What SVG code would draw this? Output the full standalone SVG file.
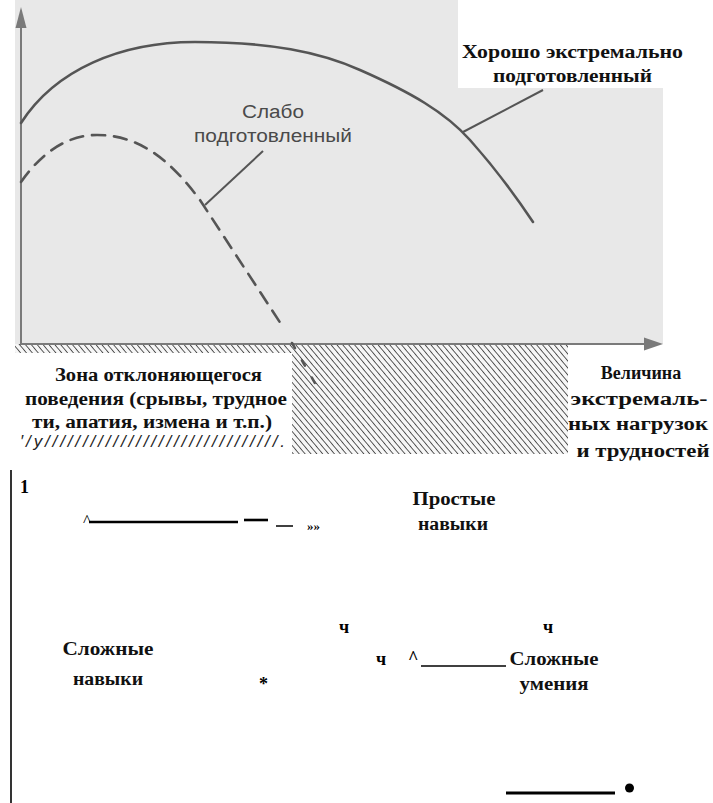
<svg xmlns="http://www.w3.org/2000/svg" width="713" height="803" viewBox="0 0 713 803">
<style>
.b{font-family:"Liberation Serif","Times New Roman",serif;font-weight:bold;font-size:18px;fill:#111}
.m{font-family:"Liberation Serif","Times New Roman",serif;font-weight:bold;font-size:18px;fill:#000}
.n{font-family:"Liberation Serif","Times New Roman",serif;font-size:17px;fill:#000}
.sm{font-family:"Liberation Serif","Times New Roman",serif;font-weight:bold;font-size:13px;fill:#000}
.s{font-family:"Liberation Sans",Arial,sans-serif;font-size:18px;fill:#4a4a4a}
.it{font-family:"Liberation Sans",Arial,sans-serif;font-style:italic;font-size:17px;fill:#222}
.ax{stroke:#7a7a7a;stroke-width:2;fill:none}
.cv{stroke:#555;stroke-width:2.6;fill:none;stroke-linecap:round}
.ld{stroke:#555;stroke-width:2;fill:none}
.k{stroke:#000;fill:none}
</style>
<defs>
<pattern id="hatch" patternUnits="userSpaceOnUse" width="4.5" height="4.5" patternTransform="rotate(-40)">
<rect width="4.5" height="4.5" fill="#f6f6f6"/>
<line x1="0" y1="0" x2="0" y2="4.5" stroke="#4a4a4a" stroke-width="1.8"/>
</pattern>
</defs>
<rect width="713" height="803" fill="#fff"/>
<g id="chart-background">
<path d="M15,0 H458 V88 H663 V344 H15 Z" fill="#e8e8e8"/>
<rect x="15" y="344" width="277" height="9" fill="url(#hatch)"/>
<rect x="292" y="344" width="276" height="110" fill="url(#hatch)"/>
</g>
<g id="axes">
<line class="ax" x1="21" y1="345" x2="21" y2="26"/>
<polygon points="21,7 15.5,28 26.5,28" fill="#7a7a7a"/>
<line class="ax" x1="20" y1="344" x2="646" y2="344"/>
<polygon points="663,344 644,337.5 644,350.5" fill="#7a7a7a"/>
</g>
<g id="curves">
<path id="curve-good" class="cv" d="M21,123 C55,70 120,42 195,42 C270,42 320,52 360,70 C410,92 445,112 470,140 C495,168 515,195 533,222"/>
<path id="curve-weak" class="cv" stroke-dasharray="13,9" d="M21,182 C40,155 65,135 97,135 C140,135 170,160 200,200 L283,327"/>
<path class="cv" stroke="#8a8a8a" stroke-width="1.5" stroke-dasharray="6,14" d="M292,343 L320,392"/>
</g>
<g id="connectors">
<line class="ld" x1="463" y1="132" x2="543" y2="90"/>
<line class="ld" x1="263" y1="151" x2="205" y2="205"/>
</g>
<g id="label-good">
<text class="b" x="462" y="58" textLength="221" lengthAdjust="spacingAndGlyphs">Хорошо  экстремально</text>
<text class="b" x="493" y="82" textLength="159" lengthAdjust="spacingAndGlyphs">подготовленный</text>
</g>
<g id="label-weak">
<text class="s" x="242" y="118" textLength="62" lengthAdjust="spacingAndGlyphs">Слабо</text>
<text class="s" x="194" y="142" textLength="158" lengthAdjust="spacingAndGlyphs">подготовленный</text>
</g>
<g id="label-zone">
<text class="b" x="55" y="381" textLength="207" lengthAdjust="spacingAndGlyphs">Зона  отклоняющегося</text>
<text class="b" x="25" y="405" textLength="262" lengthAdjust="spacingAndGlyphs">поведения  (срывы,  трудное</text>
<text class="b" x="32" y="428" textLength="240" lengthAdjust="spacingAndGlyphs">ти, апатия, измена и т.п.)</text>
<text class="it" x="20" y="447" textLength="265" lengthAdjust="spacing">′/y///////////////////////////////.</text>
</g>
<g id="label-load" text-anchor="middle">
<text class="b" x="641" y="379">Величина</text>
<text class="b" x="639" y="405" textLength="137" lengthAdjust="spacingAndGlyphs">экстремаль-</text>
<text class="b" x="638" y="430" textLength="140" lengthAdjust="spacingAndGlyphs">ных  нагрузок</text>
<text class="b" x="643" y="457" textLength="133" lengthAdjust="spacingAndGlyphs">и  трудностей</text>
</g>
<g id="lower-part">
<line class="k" x1="11" y1="470" x2="11" y2="803" stroke-width="1.6"/>
<text class="m" x="20" y="493">1</text>
<text class="n" x="83" y="526">^</text>
<line class="k" x1="89" y1="522" x2="238" y2="522" stroke-width="2.4"/>
<line class="k" x1="244" y1="520" x2="268" y2="520" stroke-width="2.6"/>
<line class="k" x1="276" y1="526" x2="293" y2="526" stroke-width="1.5"/>
<text class="sm" x="307" y="530">»»</text>
</g>
<g id="node-simple" text-anchor="middle">
<text class="b" x="454" y="505" textLength="83" lengthAdjust="spacingAndGlyphs">Простые</text>
<text class="b" x="453" y="530" textLength="70" lengthAdjust="spacingAndGlyphs">навыки</text>
</g>
<g id="node-complex-skills" text-anchor="middle">
<text class="b" x="108" y="655" textLength="91" lengthAdjust="spacingAndGlyphs">Сложные</text>
<text class="b" x="108" y="685" textLength="70" lengthAdjust="spacingAndGlyphs">навыки</text>
</g>
<g id="node-complex-abilities" text-anchor="middle">
<text class="b" x="554" y="665" textLength="89" lengthAdjust="spacingAndGlyphs">Сложные</text>
<text class="b" x="554" y="690" textLength="69" lengthAdjust="spacingAndGlyphs">умения</text>
</g>
<g id="marks">
<text class="m" x="339" y="633">ч</text>
<text class="m" x="543" y="633">ч</text>
<text class="m" x="376" y="665">ч</text>
<text class="m" x="408" y="664">^</text>
<line class="k" x1="421" y1="666" x2="506" y2="666" stroke-width="1.3"/>
<text class="m" x="259" y="690">*</text>
<line class="k" x1="506" y1="793" x2="615" y2="793" stroke-width="3"/>
<circle cx="629.5" cy="788" r="4.5" fill="#000"/>
</g>
</svg>
